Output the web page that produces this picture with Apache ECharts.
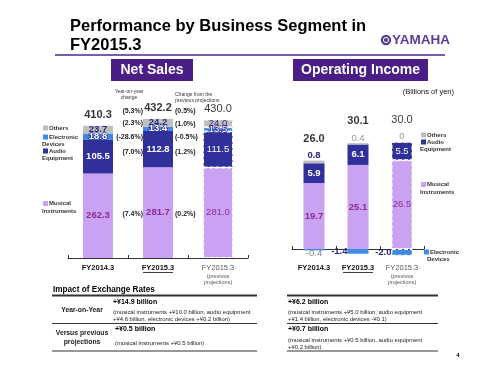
<!DOCTYPE html>
<html>
<head>
<meta charset="utf-8">
<title>Performance by Business Segment in FY2015.3</title>
<script src="https://cdn.jsdelivr.net/npm/echarts@6/dist/echarts.min.js"></script>
<style>
  html, body { margin: 0; padding: 0; background: #fff; }
  #main { width: 500px; height: 375px; }
</style>
</head>
<body>
<div id="main"></div>
<script>
// categories
var categories = ['FY2014.3', 'FY2015.3', 'FY2015.3 (previous projections)'];

// net sales, billions of yen
var salesMusical = [262.3, 281.7, 281.0];
var salesAudio = [105.5, 112.8, 111.5];
var salesElectronic = [18.8, 13.4, 13.5];
var salesOthers = [23.7, 24.2, 24.0];
var salesTotal = [410.3, 432.2, 430.0];
// change rows: total, others, electronic, audio, musical
var salesYoY = ['(5.3%)', '(2.3%)', '(-28.6%)', '(7.0%)', '(7.4%)'];
var salesVsPrev = ['(0.5%)', '(1.0%)', '(-0.5%)', '(1.2%)', '(0.2%)'];

// operating income, billions of yen
var opMusical = [19.7, 25.1, 26.5];
var opAudio = [5.9, 6.1, 5.5];
var opOthers = [0.8, 0.4, 0];
var opElectronic = [-0.4, -1.4, -2.0];
var opTotal = [26.0, 30.1, 30.0];

// impact of exchange rates table
var fxSalesYoY = ['+¥14.9 billion', '(musical instruments +¥10.0 billion, audio equipment', '+¥4.6 billion, electronic devices +¥0.2 billion)'];
var fxSalesPrev = ['+¥0.5 billion', '(musical instruments +¥0.5 billion)'];
var fxOpYoY = ['+¥6.2 billion', '(musical instruments +¥5.0 billion, audio equipment', '+¥1.4 billion, electronic devices -¥0.1)'];
var fxOpPrev = ['+¥0.7 billion', '(musical instruments +¥0.5 billion, audio equipment', '+¥0.2 billion)'];

var FONT = '"Liberation Sans", Arial, sans-serif';
var cMusical = '#c9a3f2', cAudio = '#30309a', cElec = '#3d8ae6', cOthers = '#bfbfbf';
var cPurple = '#4a1d87', cMusLabel = '#8c2a9c', cNavy = '#26287e';

var gridNet = {left: 68, top: 97, width: 180, height: 161};
var gridOp = {left: 292, top: 115, width: 132, height: 142.4};

function t(x, y, text, size, opts) {
    opts = opts || {};
    var align = opts.align || 'left';
    return {
        type: 'text', x: x, y: y, silent: true, z: 10,
        style: {
            text: text,
            font: (opts.bold ? 'bold ' : '') + size + 'px ' + FONT,
            fill: opts.color || '#000',
            textAlign: align, textVerticalAlign: 'middle',
            align: align, verticalAlign: 'middle'
        }
    };
}
function line(x1, y1, x2, y2, w, color) {
    return {type: 'line', silent: true, shape: {x1: x1, y1: y1, x2: x2, y2: y2},
        style: {stroke: color || '#222', lineWidth: w}};
}
function rect(x, y, w, h, color) {
    return {type: 'rect', silent: true, shape: {x: x, y: y, width: w, height: h}, style: {fill: color}};
}

var dashed = {borderType: 'dashed', borderColor: '#ffffff', borderWidth: 1};
function segData(values) {
    return values.map(function (v, i) {
        var d = {value: v};
        if (i === 2) {
            d.itemStyle = dashed;
            d.label = {fontWeight: 'normal'};
        }
        return d;
    });
}
function sum(arrs) {
    return arrs[0].map(function (_, i) {
        return arrs.reduce(function (s, a) { return s + a[i]; }, 0);
    });
}

function labelStyle(color, extra) {
    var l = {show: true, position: 'inside', color: color, fontFamily: FONT, fontWeight: 'bold', fontSize: 9.5,
        formatter: function (p) { return p.value.toFixed(1); }};
    for (var k in extra) l[k] = extra[k];
    return l;
}

function axisLabelFmt(v, i) {
    if (i === 0) return '{b|FY2014.3}';
    if (i === 1) return '{b|FY2015.3}';
    return '{n|FY2015.3}\n{s|(previous}\n{s|projections)}';
}
var axisRich = {
    b: {fontFamily: FONT, fontWeight: 'bold', fontSize: 7.5, color: '#111', lineHeight: 10},
    n: {fontFamily: FONT, fontSize: 7.5, color: '#555', lineHeight: 10},
    s: {fontFamily: FONT, fontSize: 5.5, color: '#555', lineHeight: 6.5}
};
function xAxisCfg(gridIndex, margin) {
    return {
        type: 'category', gridIndex: gridIndex, data: categories,
        axisLine: {lineStyle: {color: '#333', width: 1}},
        axisTick: {show: true, inside: true, length: 3, lineStyle: {color: '#333'}},
        axisLabel: {margin: margin, formatter: axisLabelFmt, rich: axisRich, interval: 0}
    };
}

var opOthersData = segData(opOthers);
opOthersData[0].label = {color: cNavy, fontWeight: 'bold'};
var opElecData = segData(opElectronic);
opElecData[0].label = {position: 'inside', offset: [0, 4], color: '#888', fontWeight: 'normal'};
opElecData[1].label = {position: 'left', distance: 0};
opElecData[2].label = {position: 'left', distance: 0, fontWeight: 'bold'};

var netTop = sum([salesMusical, salesAudio, salesElectronic, salesOthers]);
var opTop = sum([opMusical, opAudio, opOthers]);

function totalSeries(xi, tops, totals, dist) {
    return {
        type: 'scatter', xAxisIndex: xi, yAxisIndex: xi, symbolSize: 1,
        itemStyle: {color: 'transparent'}, silent: true, z: 5,
        data: tops.map(function (v, i) {
            return {value: v, label: i === 2 ? {fontWeight: 'normal'} : undefined};
        }),
        label: {show: true, position: 'top', distance: dist, color: '#000', fontFamily: FONT,
            fontWeight: 'bold', fontSize: 11,
            formatter: function (p) { return totals[p.dataIndex].toFixed(1); }}
    };
}

// decoration, headings, legends and table
var g = [];
g.push(t(70, 26, 'Performance by Business Segment in', 16.5, {bold: true}));
g.push(t(70, 45.5, 'FY2015.3', 16.5, {bold: true}));
g.push(line(55, 55, 445, 55, 1.5, '#4a2a8a'));
// yamaha mark
g.push({type: 'circle', silent: true, shape: {cx: 386, cy: 40, r: 5.2}, style: {fill: '#5a3d95'}});
g.push({type: 'circle', silent: true, shape: {cx: 386, cy: 40, r: 2.6}, style: {fill: 'none', stroke: '#fff', lineWidth: 1}});
g.push(t(392, 40, 'YAMAHA', 13.5, {bold: true, color: '#5a3d95'}));
g[g.length - 1].style.font = 'bold 13.5px "Liberation Sans Narrow", ' + FONT;

g.push(rect(111, 59, 82, 22, cPurple));
g.push(t(152, 70, 'Net Sales', 14, {bold: true, color: '#fff', align: 'center'}));
g.push(rect(293, 59, 135, 22, cPurple));
g.push(t(360.5, 70, 'Operating Income', 14, {bold: true, color: '#fff', align: 'center'}));
g.push(t(454, 92, '(Billions of yen)', 7.5, {align: 'right', color: '#111'}));

g.push(t(129, 92, 'Year-on-year', 5, {align: 'center', color: '#333'}));
g.push(t(129, 98, 'change', 5, {align: 'center', color: '#333'}));
g.push(t(175, 95, 'Change from the', 5, {color: '#333'}));
g.push(t(175, 101, 'previous projections', 5, {color: '#333'}));
var pctY = [111, 123.5, 137, 152, 214];
salesYoY.forEach(function (s, i) { g.push(t(143, pctY[i], s, 7, {bold: true, align: 'right', color: '#222'})); });
salesVsPrev.forEach(function (s, i) { g.push(t(175, pctY[i] + 0.5, s, 7, {bold: true, color: '#222'})); });

function legendItem(x, y, color, l1, l2, dx) {
    g.push(rect(x, y - 2.5, 5, 5, color));
    g.push(t(x + 6, y, l1, 6, {bold: true, color: '#333'}));
    if (l2) g.push(t(x - (dx || 1), y + 7.5, l2, 6, {bold: true, color: '#333'}));
}
legendItem(43, 128, cOthers, 'Others');
legendItem(43, 137, cElec, 'Electronic', 'Devices');
legendItem(43, 151, cAudio, 'Audio', 'Equipment');
legendItem(43, 203.5, cMusical, 'Musical', 'Instruments');
legendItem(421, 135, cOthers, 'Others');
legendItem(421, 142, cAudio, 'Audio', 'Equipment');
legendItem(421, 184.5, cMusical, 'Musical', 'Instruments');
legendItem(424, 252, cElec, 'Electronic', 'Devices', -3);

// underline the current year labels
var netMid = gridNet.left + gridNet.width / 2;
var opMid = gridOp.left + gridOp.width / 2;
g.push(line(netMid - 15, 272.5, netMid + 15, 272.5, 0.8, '#111'));
g.push(line(opMid - 15, 272.5, opMid + 15, 272.5, 0.8, '#111'));

// table
g.push(t(53, 290, 'Impact of Exchange Rates', 8.2, {bold: true}));
g.push(line(52, 295.5, 257, 295.5, 2, '#333'));
g.push(line(287, 295.5, 438, 295.5, 2, '#333'));
g.push(line(52, 323.5, 257, 323.5, 1.2, '#333'));
g.push(line(287, 323.5, 438, 323.5, 1.2, '#333'));
g.push(line(52, 351, 257, 351, 1.2, '#333'));
g.push(line(287, 351, 438, 351, 1.2, '#333'));
g.push(t(82, 310, 'Year-on-Year', 6.8, {bold: true, align: 'center', color: '#222'}));
g.push(t(82, 333, 'Versus previous', 6.8, {bold: true, align: 'center', color: '#222'}));
g.push(t(82, 342, 'projections', 6.8, {bold: true, align: 'center', color: '#222'}));
function fxBlock(x, y0, rows, ys) {
    g.push(t(x, y0, rows[0], 7, {bold: true}));
    for (var i = 1; i < rows.length; i++) g.push(t(x, ys[i - 1], rows[i], 5.9, {color: '#222'}));
}
fxBlock(113, 302, fxSalesYoY, [312, 319]);
fxBlock(115, 329, fxSalesPrev, [343]);
fxBlock(288, 302, fxOpYoY, [312, 319]);
fxBlock(288, 329, fxOpPrev, [340, 347]);
g.push(t(458, 355, '4', 6, {bold: true, align: 'center'}));

var chart = echarts.init(document.getElementById('main'));
chart.setOption({
    animation: false,
    backgroundColor: '#fff',
    textStyle: {fontFamily: FONT},
    grid: [gridNet, gridOp],
    xAxis: [xAxisCfg(0, 5), xAxisCfg(1, 5.5)],
    yAxis: [
        {type: 'value', gridIndex: 0, min: 0, max: 500, show: false},
        {type: 'value', gridIndex: 1, min: -2.5, max: 40, show: false}
    ],
    series: [
        {name: 'Musical Instruments', type: 'bar', stack: 'sales', xAxisIndex: 0, yAxisIndex: 0, barWidth: 30,
            itemStyle: {color: cMusical}, data: segData(salesMusical), label: labelStyle(cMusLabel)},
        {name: 'Audio Equipment', type: 'bar', stack: 'sales', xAxisIndex: 0, yAxisIndex: 0, barWidth: 30,
            itemStyle: {color: cAudio}, data: segData(salesAudio), label: labelStyle('#fff')},
        {name: 'Electronic Devices', type: 'bar', stack: 'sales', xAxisIndex: 0, yAxisIndex: 0, barWidth: 30,
            itemStyle: {color: cElec}, data: segData(salesElectronic),
            label: labelStyle('#fff', {textBorderColor: cAudio, textBorderWidth: 1.5})},
        {name: 'Others', type: 'bar', stack: 'sales', xAxisIndex: 0, yAxisIndex: 0, barWidth: 30,
            itemStyle: {color: cOthers}, data: segData(salesOthers), label: labelStyle(cNavy)},
        totalSeries(0, netTop, salesTotal, 5),

        {name: 'Musical Instruments', type: 'bar', stack: 'op', xAxisIndex: 1, yAxisIndex: 1, barWidth: 21,
            itemStyle: {color: cMusical}, data: segData(opMusical), label: labelStyle(cMusLabel)},
        {name: 'Audio Equipment', type: 'bar', stack: 'op', xAxisIndex: 1, yAxisIndex: 1, barWidth: 21,
            itemStyle: {color: cAudio}, data: segData(opAudio), label: labelStyle('#fff')},
        {name: 'Others', type: 'bar', stack: 'op', xAxisIndex: 1, yAxisIndex: 1, barWidth: 21,
            itemStyle: {color: cOthers}, data: opOthersData,
            label: labelStyle('#999', {position: 'top', distance: 0, fontWeight: 'normal',
                formatter: function (p) { return p.value === 0 ? '0' : p.value.toFixed(1); }})},
        {name: 'Electronic Devices', type: 'bar', stack: 'op', xAxisIndex: 1, yAxisIndex: 1, barWidth: 21,
            itemStyle: {color: cElec}, data: opElecData, label: labelStyle(cNavy)},
        totalSeries(1, opTop, opTotal, 16)
    ],
    graphic: {elements: g}
});
</script>
</body>
</html>
